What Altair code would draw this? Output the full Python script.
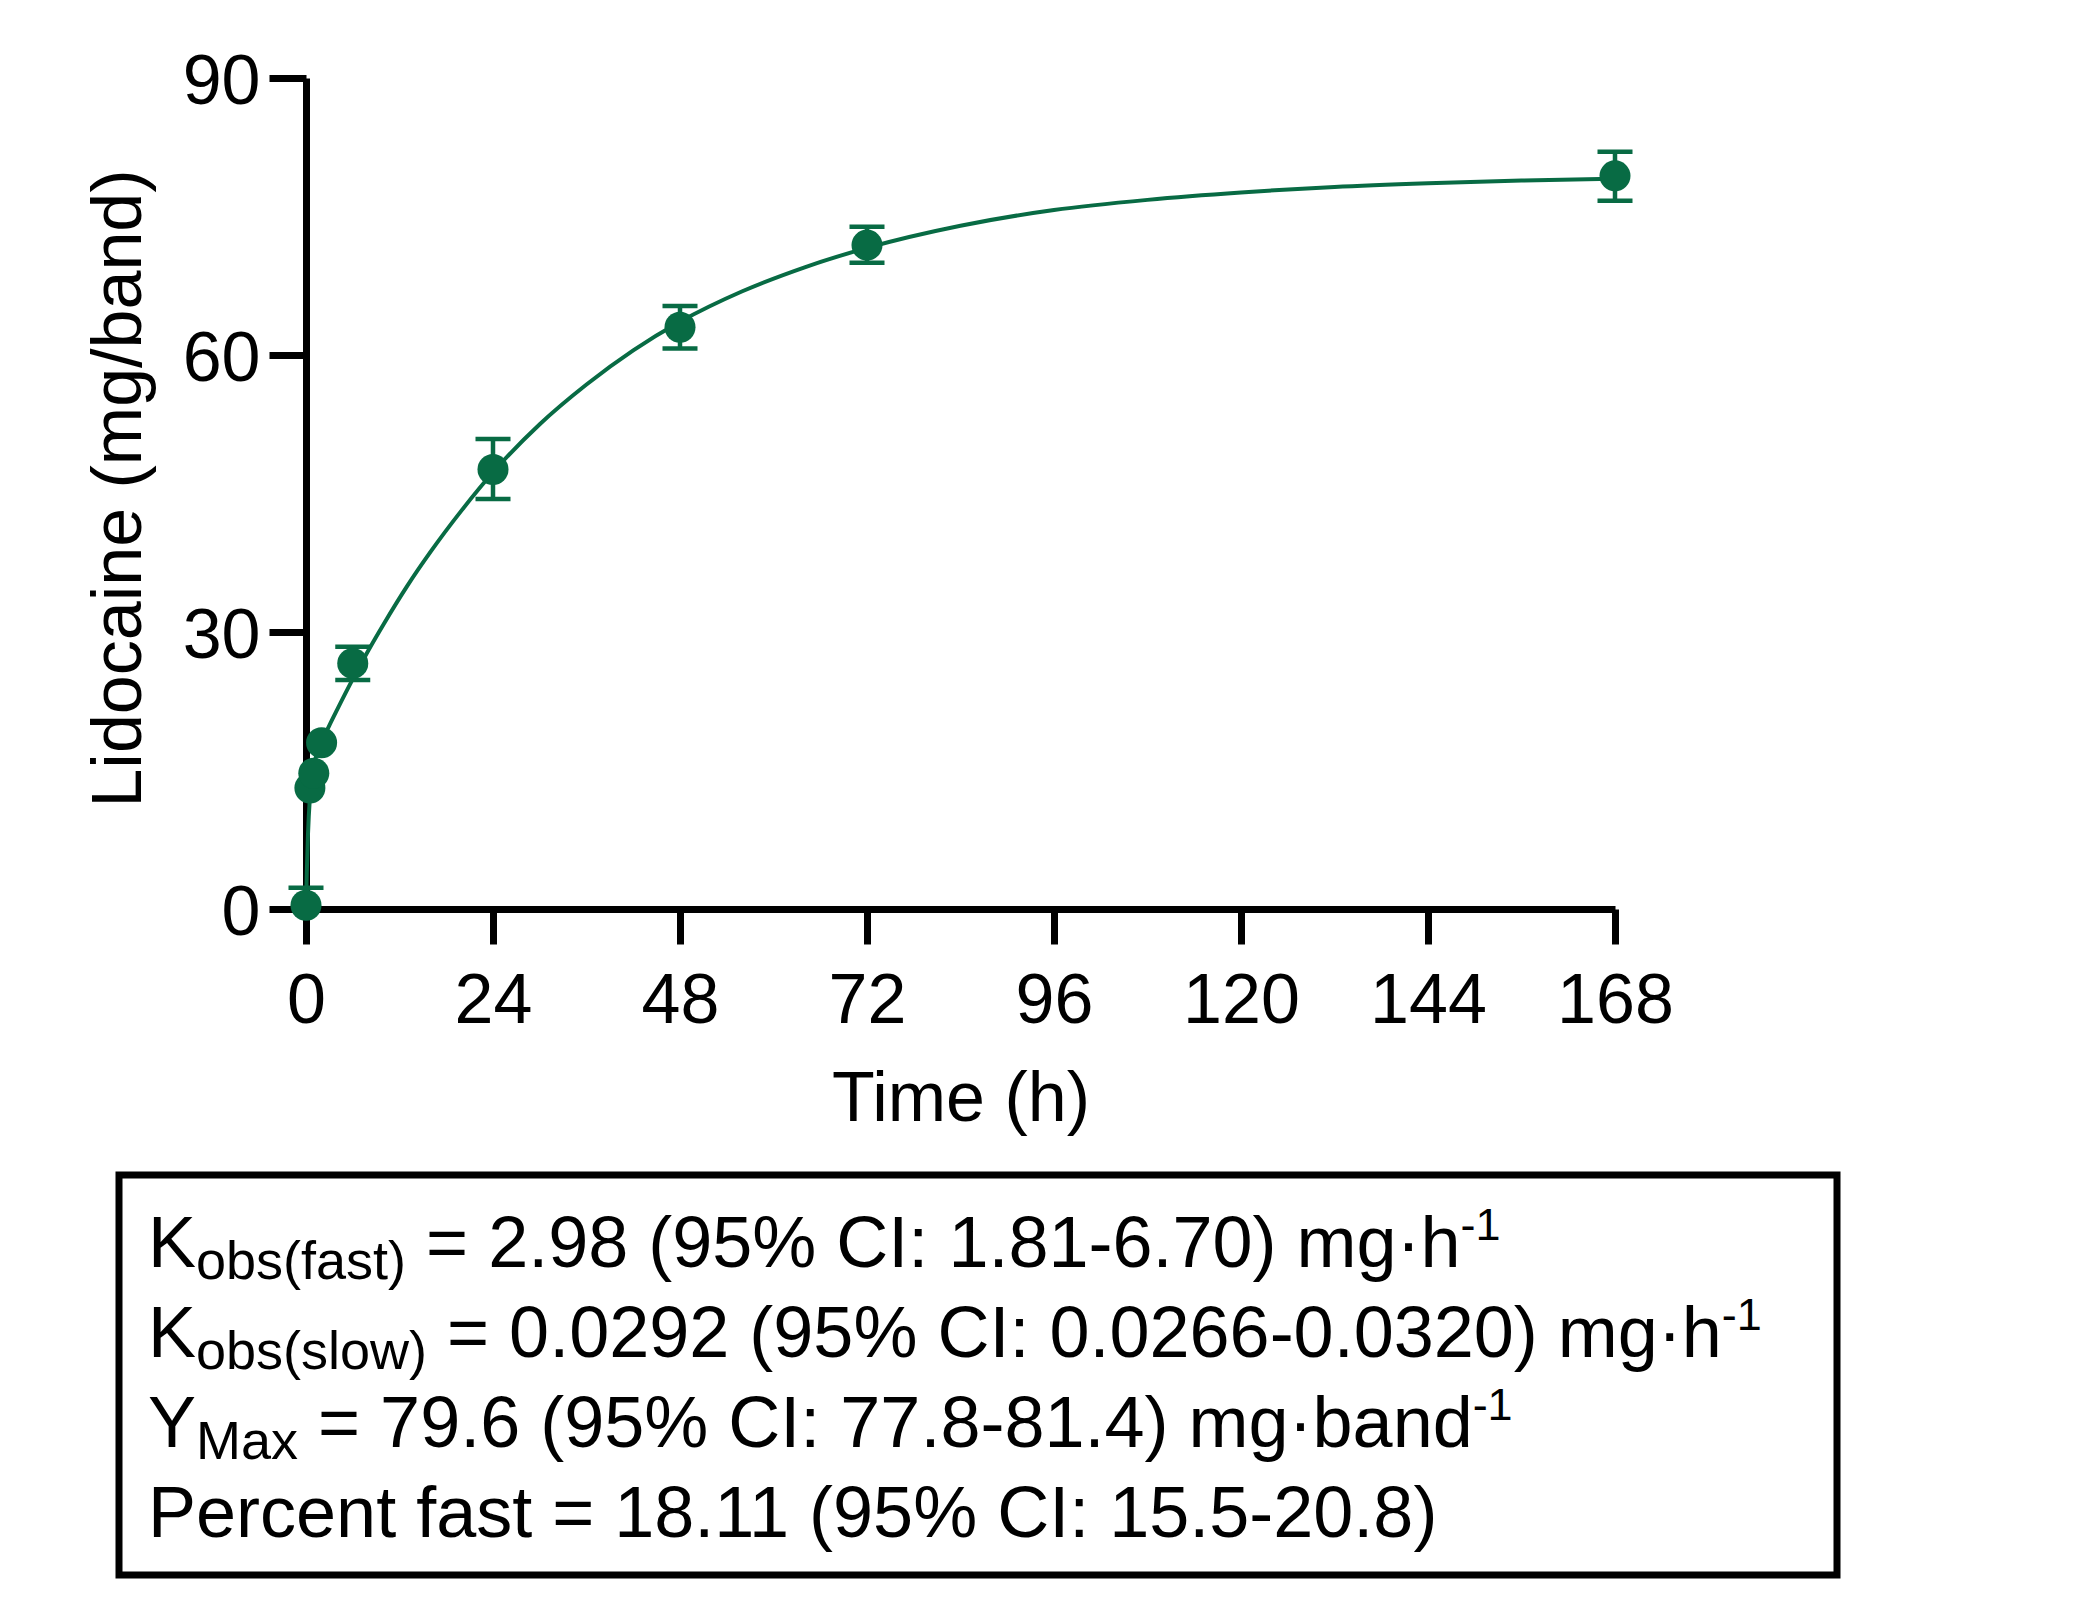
import altair as alt
import pandas as pd

# ---------------- data ----------------
time_h = [0, 0.5, 1, 2, 6, 24, 48, 72, 168]
lidocaine = [0.4, 13.1, 14.7, 18.0, 26.6, 47.6, 63.0, 71.9, 79.4]
err_low = [0.4, 13.1, 14.7, 18.0, 24.8, 44.4, 60.7, 70.0, 76.7]
err_high = [2.3, 13.1, 14.7, 18.0, 28.4, 50.9, 65.3, 73.9, 82.0]

fit_t = [0, 0.1, 0.25, 0.5, 0.75, 1, 1.5, 2, 3, 4, 6, 8, 10, 13, 16, 20, 24,
         30, 36, 42, 48, 56, 64, 72, 84, 96, 108, 120, 132, 144, 156, 168]
fit_y = [0, 3.9, 8.0, 12.1, 14.3, 15.6, 17.0, 18.1, 19.9, 21.6, 24.9, 28.0,
         30.9, 35.0, 38.7, 43.2, 47.3, 52.5, 56.8, 60.5, 63.6, 66.9, 69.5,
         71.6, 74.0, 75.7, 76.8, 77.6, 78.2, 78.6, 78.9, 79.1]

x_ticks = [0, 24, 48, 72, 96, 120, 144, 168]
y_ticks = [0, 30, 60, 90]

x_title = "Time (h)"
y_title = "Lidocaine (mg/band)"

# text box: main symbol, subscript, rest of line, superscript
line_main = ["K", "K", "Y", "Percent fast = 18.11 (95% CI: 15.5-20.8)"]
line_sub = ["obs(fast)", "obs(slow)", "Max", ""]
line_rest = ["= 2.98 (95% CI: 1.81-6.70) mg\u00b7h",
             "= 0.0292 (95% CI: 0.0266-0.0320) mg\u00b7h",
             "= 79.6 (95% CI: 77.8-81.4) mg\u00b7band", ""]
line_sup = ["-1", "-1", "-1", ""]

# ---------------- styling ----------------
GREEN = "#086B44"
FONT = "Liberation Sans"
W, H = 1309, 831

# Arial / Liberation Sans advance widths (per 1000 em)
ADV = {" ": 278, "=": 584, ".": 278, "%": 889, ":": 278, "-": 333, "(": 333,
       ")": 333, "\u00b7": 333, "K": 667, "Y": 667, "P": 667, "C": 722,
       "I": 278, "M": 833, "o": 556, "b": 556, "s": 500, "f": 278, "a": 556,
       "t": 278, "l": 222, "w": 722, "x": 500, "e": 556, "r": 333, "c": 500,
       "n": 556, "m": 833, "g": 556, "h": 556, "d": 556}
for dch in "0123456789":
    ADV[dch] = 556


def tw(s, fs):
    return sum(ADV.get(c, 556) for c in s) / 1000.0 * fs


pts = pd.DataFrame({"t": time_h, "y": lidocaine, "lo": err_low, "hi": err_high})
fit = pd.DataFrame({"t": fit_t, "y": fit_y})
bars = pts[(pts.hi > pts.y) | (pts.lo < pts.y)]
caps_hi = pts[pts.hi > pts.y]
caps_lo = pts[pts.lo < pts.y]

xscale = alt.Scale(domain=[0, 168], nice=False, zero=False)
yscale = alt.Scale(domain=[0, 90], nice=False)

xaxis = alt.Axis(values=x_ticks, title=x_title, grid=False,
                 domainColor="black", domainWidth=7, tickColor="black",
                 tickWidth=7, tickSize=35, labelFont=FONT, labelFontSize=70,
                 labelColor="black", labelPadding=23, labelFlush=False,
                 labelOverlap=False, titleFont=FONT, titleFontSize=70,
                 titleFontWeight="normal", titleColor="black", titleY=211,
                 titleBaseline="alphabetic", format="d")
yaxis = alt.Axis(values=y_ticks, title=y_title, grid=False,
                 domainColor="black", domainWidth=7, tickColor="black",
                 tickWidth=7, tickSize=37, labelFont=FONT, labelFontSize=70,
                 labelColor="black", labelPadding=9, labelFlush=False,
                 labelOverlap=False, labelOffset=4, titleFont=FONT,
                 titleFontSize=70, titleFontWeight="normal", titleColor="black",
                 titleX=-166, titleY=410, titleAlign="center",
                 titleBaseline="alphabetic", format="d")


def X(field):
    return alt.X(f"{field}:Q", scale=xscale, axis=xaxis)


def Y(field):
    return alt.Y(f"{field}:Q", scale=yscale, axis=yaxis)


curve = alt.Chart(fit).mark_line(color=GREEN, strokeWidth=4,
                                 interpolate="monotone").encode(x=X("t"), y=Y("y"))
rules = alt.Chart(bars).mark_rule(color=GREEN, strokeWidth=4.5).encode(
    x=X("t"), y=Y("lo"), y2="hi")
cap_top = alt.Chart(caps_hi).mark_rule(color=GREEN, strokeWidth=4.5,
                                       xOffset=-17.5, x2Offset=17.5).encode(
    x=X("t"), x2="t", y=Y("hi"))
cap_bot = alt.Chart(caps_lo).mark_rule(color=GREEN, strokeWidth=4.5,
                                       xOffset=-17.5, x2Offset=17.5).encode(
    x=X("t"), x2="t", y=Y("lo"))
points = alt.Chart(pts).mark_circle(color=GREEN, size=962, opacity=1).encode(
    x=X("t"), y=Y("y"))

one = pd.DataFrame({"a": [0]})
box = alt.Chart(one).mark_rect(fillOpacity=0, stroke="black", strokeWidth=7).encode(
    x=alt.value(-187), x2=alt.value(1531), y=alt.value(1097), y2=alt.value(1497))

F, S, P = 72, 54, 45
X0 = -158
baselines = [1189, 1279, 1369, 1459]
texts = []
for i in range(4):
    segs = [(line_main[i], F, 0), (line_sub[i], S, 12),
            (line_rest[i], F, 0), (line_sup[i], P, -27)]
    xpos = X0
    first = True
    for s, fs, dy in segs:
        if not s:
            continue
        if not first and fs == F:
            xpos += tw(" ", F)
        texts.append(alt.Chart(one).mark_text(
            align="left", baseline="alphabetic", font=FONT, fontSize=fs,
            color="black").encode(x=alt.value(xpos), y=alt.value(baselines[i] + dy),
                                  text=alt.value(s)))
        xpos += tw(s, fs)
        first = False

chart = alt.layer(curve, rules, cap_top, cap_bot, points, box, *texts).properties(
    width=W, height=H,
    autosize=alt.AutoSizeParams(type="none"),
    padding={"left": 298, "top": 70, "right": 240, "bottom": 680},
    background="white",
).configure_view(stroke=None)

chart.save("out.html", embed_options={"renderer": "svg", "actions": False})
